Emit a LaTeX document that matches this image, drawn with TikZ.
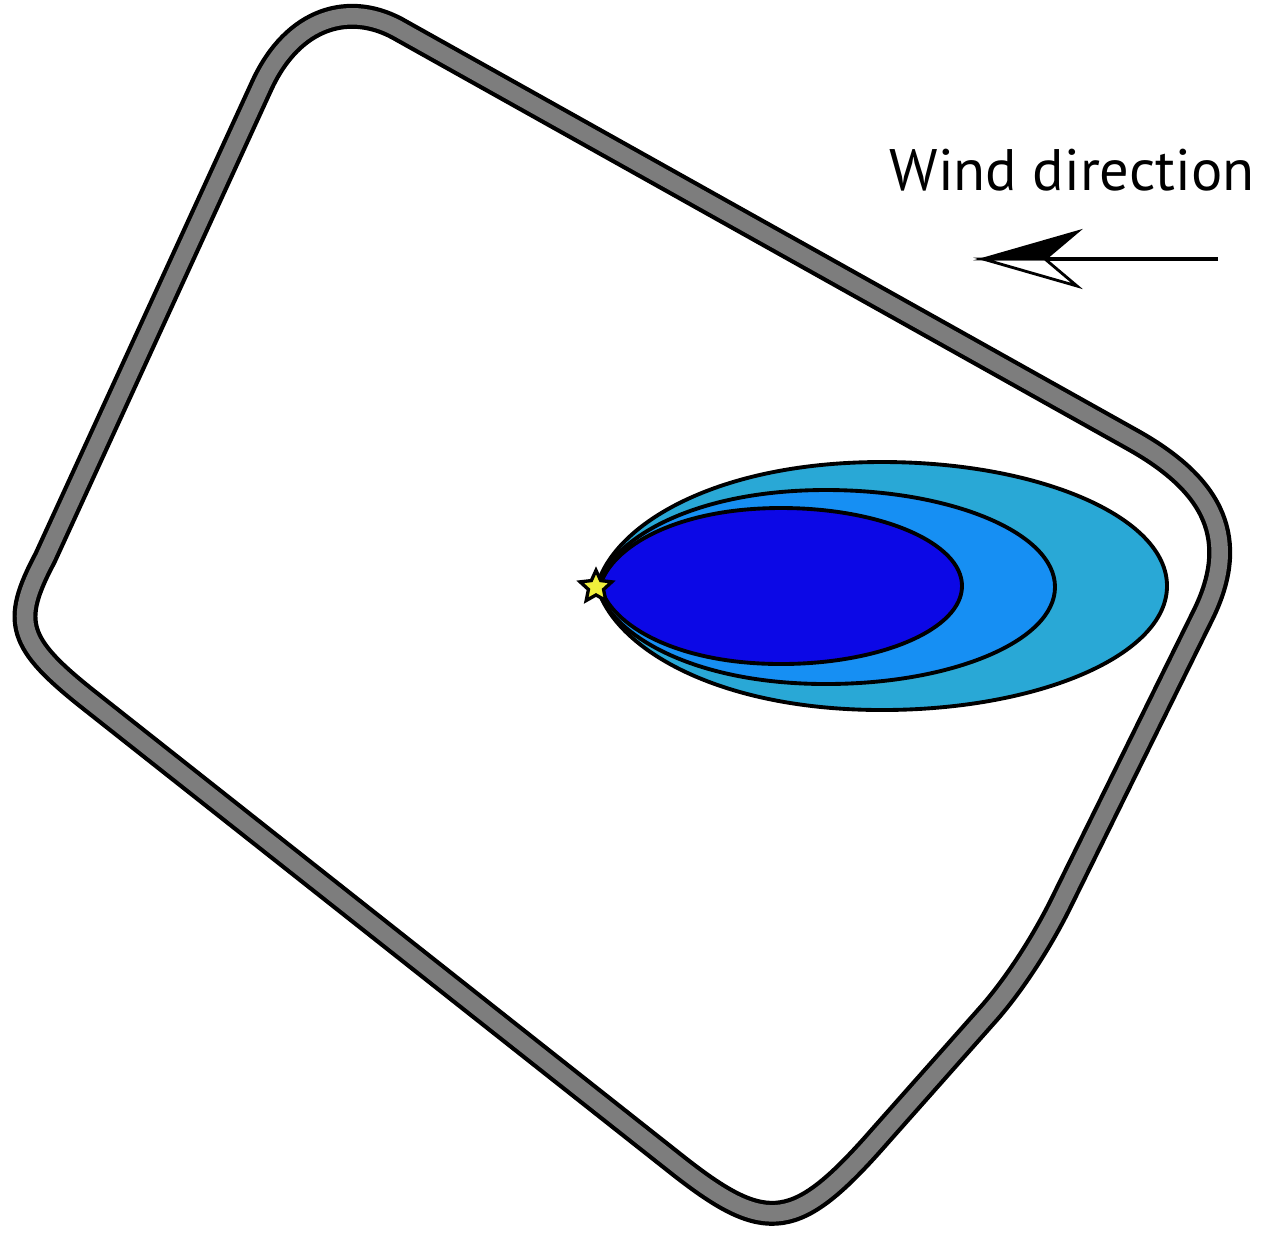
\documentclass[tikz,border=0pt]{standalone}
\usepackage{fontspec}
\setmainfont{PT Sans}
\usetikzlibrary{shapes.geometric}
\definecolor{bandgray}{RGB}{125,125,125}
\definecolor{plumeout}{RGB}{41,168,214}
\definecolor{plumemid}{RGB}{22,143,243}
\definecolor{plumein}{RGB}{12,8,230}
\definecolor{staryellow}{RGB}{240,240,60}
\tikzset{
  bandouter/.style={draw=black, line width=14.2pt, line join=round},
  bandinner/.style={draw=bandgray, line width=9.4pt, line join=round},
  plume/.style={draw=black, line width=2.2pt},
  windlabel/.style={font=\fontsize{33.3}{40}\selectfont, inner sep=0pt, anchor=base},
}
\begin{document}
\begin{tikzpicture}[x=0.02cm,y=-0.02cm]
\useasboundingbox (0,0) rectangle (1287,1232);
% site boundary
\def\boundary{(402,31) -- (1133,440)
  .. controls (1215,486) and (1240,540) .. (1203,615)
  -- (1060,905)
  .. controls (1042,941) and (1016,982) .. (990,1012)
  -- (880,1136)
  .. controls (797,1231) and (767,1235) .. (680,1167)
  -- (89,700)
  .. controls (17,643) and (11,622) .. (45,558)
  -- (262,85)
  .. controls (293,18) and (350,0) .. cycle}
\draw[bandouter] \boundary;
\draw[bandinner] \boundary;
% plumes
\path[plume, fill=plumeout] (597,586)
  .. controls (614,524) and (717,462) .. (882,462)
  .. controls (1039,462) and (1167,517) .. (1167,586)
  .. controls (1167,655) and (1039,710) .. (882,710)
  .. controls (717,710) and (614,648) .. cycle;
\path[plume, fill=plumemid] (597,587)
  .. controls (611,539) and (693,490) .. (826,490)
  .. controls (952,490) and (1055,533) .. (1055,587)
  .. controls (1055,641) and (952,684) .. (826,684)
  .. controls (693,684) and (611,635) .. cycle;
\path[plume, fill=plumein] (600,586)
  .. controls (611,547) and (676,508) .. (781,508)
  .. controls (881,508) and (962,543) .. (962,586)
  .. controls (962,629) and (881,664) .. (781,664)
  .. controls (676,664) and (611,625) .. cycle;
% source
\node[star, star points=5, star point ratio=2.1, minimum size=19pt, inner sep=0pt,
      fill=staryellow, draw=black, line width=1.9pt] (src) at (596,587) {};
% wind label and arrow
\node[windlabel] (wind) at (1072,190) {Wind direction};
\coordinate (atail) at (1218,259);
\coordinate (atip) at (983,259);
\coordinate (anotch) at (1045,259);
\coordinate (aup) at (1077,232);
\coordinate (alow) at (1077,286);
\draw[line width=1.9pt] (atail) -- (anotch);
\draw[line width=1.6pt, line join=miter, fill=white] (atip) -- (anotch) -- (alow) -- cycle;
\draw[line width=1.6pt, line join=miter, fill=black] (atip) -- (aup) -- (anotch) -- cycle;
\end{tikzpicture}
\end{document}
